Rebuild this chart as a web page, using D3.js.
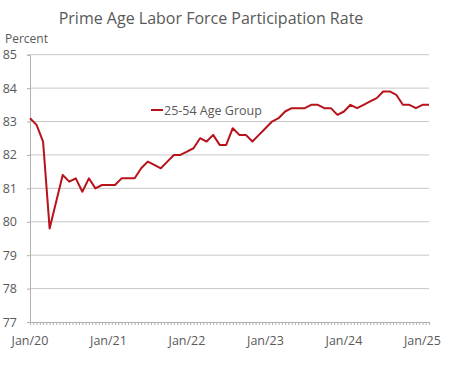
<!DOCTYPE html>
<html>
<head>
<meta charset="utf-8">
<script src="https://cdn.jsdelivr.net/npm/d3@7"></script>
<style>
    body { margin: 0; background: #fff; }
    text { font-family: "Open Sans", "Noto Sans", sans-serif; fill: #595959; }
</style>
</head>
<body>
<svg id="chart" width="463" height="370"></svg>
<script>
// monthly, Jan 2020 - Feb 2025
var months = [];
for (var yr = 2020; yr <= 2025; yr++) {
    for (var m = 0; m < 12; m++) {
        if (yr === 2025 && m > 1) break;
        months.push(new Date(yr, m, 1));
    }
}
var rate2020 = [83.1, 82.9, 82.4, 79.8, 80.6, 81.4, 81.2, 81.3, 80.9, 81.3, 81.0, 81.1];
var rate2021 = [81.1, 81.1, 81.3, 81.3, 81.3, 81.6, 81.8, 81.7, 81.6, 81.8, 82.0, 82.0];
var rate2022 = [82.1, 82.2, 82.5, 82.4, 82.6, 82.3, 82.3, 82.8, 82.6, 82.6, 82.4, 82.6];
var rate2023 = [82.8, 83.0, 83.1, 83.3, 83.4, 83.4, 83.4, 83.5, 83.5, 83.4, 83.4, 83.2];
var rate2024 = [83.3, 83.5, 83.4, 83.5, 83.6, 83.7, 83.9, 83.9, 83.8, 83.5, 83.5, 83.4];
var rate2025 = [83.5, 83.5];
var rates = [].concat(rate2020, rate2021, rate2022, rate2023, rate2024, rate2025);

var yTicks = [77, 78, 79, 80, 81, 82, 83, 84, 85];
var xLabels = ["Jan/20", "Jan/21", "Jan/22", "Jan/23", "Jan/24", "Jan/25"];

var data = months.map(function (d, i) { return { i: i, v: rates[i] }; });

var svg = d3.select("#chart");

var x = d3.scaleLinear().domain([0, months.length - 1]).range([30, 429]);
var y = d3.scaleLinear().domain([77, 85]).range([322, 54.7]);

// title
svg.append("text")
    .attr("x", 211).attr("y", 24)
    .attr("text-anchor", "middle")
    .style("font-size", "16px")
    .text("Prime Age Labor Force Participation Rate");

svg.append("text")
    .attr("x", 5).attr("y", 43)
    .style("font-size", "12px")
    .text("Percent");

// gridlines
svg.append("g")
    .selectAll("line")
    .data(yTicks.filter(function (d) { return d > 77; }))
    .enter().append("line")
    .attr("x1", x(0)).attr("x2", x(months.length - 1))
    .attr("y1", function (d) { return y(d); })
    .attr("y2", function (d) { return y(d); })
    .attr("stroke", "#c8c8c8")
    .attr("stroke-width", 1);

// y axis
var yAxis = svg.append("g")
    .attr("transform", "translate(" + x(0) + ",0)")
    .call(d3.axisLeft(y).tickValues(yTicks).tickSize(3).tickPadding(4).tickFormat(d3.format("d")));
yAxis.select(".domain").attr("stroke", "#b0b0b0");
yAxis.selectAll(".tick line").attr("stroke", "#b0b0b0");
yAxis.selectAll("text").style("font-size", "12.5px").attr("fill", "#595959")
    .attr("x", -13);

// x axis with half-month minor ticks
var minorTicks = d3.range(0, months.length - 1 + 0.01, 0.5);
var xAxis = svg.append("g")
    .attr("transform", "translate(0," + y(77) + ")")
    .call(d3.axisBottom(x).tickValues(minorTicks).tickSize(3).tickFormat(""));
xAxis.select(".domain").attr("stroke", "#b0b0b0");
xAxis.selectAll(".tick line").attr("stroke", "#b0b0b0");

svg.append("g")
    .selectAll("text")
    .data(xLabels)
    .enter().append("text")
    .attr("x", function (d, i) { return x(i * 12); })
    .attr("y", y(77) + 23)
    .attr("text-anchor", "middle")
    .style("font-size", "12.5px")
    .text(function (d) { return d; });

// series line
var line = d3.line()
    .x(function (d) { return x(d.i); })
    .y(function (d) { return y(d.v); });

svg.append("path")
    .datum(data)
    .attr("fill", "none")
    .attr("stroke", "#b8121b")
    .attr("stroke-width", 2)
    .attr("stroke-linejoin", "round")
    .attr("d", line);

// legend
var legend = svg.append("g").attr("transform", "translate(151,110)");
legend.append("line")
    .attr("x1", 0).attr("x2", 12)
    .attr("stroke", "#b8121b").attr("stroke-width", 2);
legend.append("text")
    .attr("x", 13).attr("y", 5)
    .style("font-size", "12.5px")
    .text("25-54 Age Group");
</script>
</body>
</html>
